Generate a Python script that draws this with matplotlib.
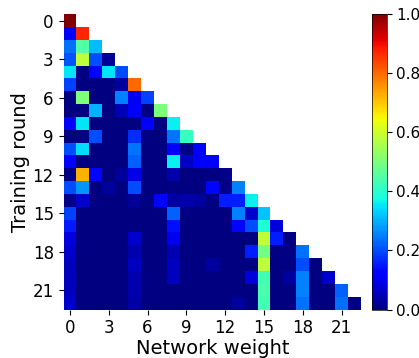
import numpy as np
import matplotlib
matplotlib.use("Agg")
import matplotlib.pyplot as plt

# fraction of attention each training round puts on each network weight
row_00 = [1.0]
row_01 = [0.11, 0.87]
row_02 = [0.235, 0.45, 0.31]
row_03 = [0.21, 0.58, 0.2, 0.02]
row_04 = [0.35, 0.0, 0.11, 0.35, 0.2]
row_05 = [0.19, 0, 0, 0, 0.03, 0.8]
row_06 = [0, 0.5, 0, 0, 0.25, 0.1, 0.19]
row_07 = [0, 0, 0.3, 0, 0.05, 0.11, 0, 0.5]
row_08 = [0.11, 0.35, 0, 0, 0, 0, 0.12, 0, 0.36]
row_09 = [0, 0, 0.2, 0, 0, 0.17, 0, 0, 0.24, 0.42]
row_10 = [0.2, 0.34, 0, 0, 0, 0.24, 0, 0, 0.12, 0.01, 0.12]
row_11 = [0.12, 0, 0, 0, 0, 0.22, 0, 0, 0.36, 0.06, 0.12, 0.12]
row_12 = [0, 0.72, 0.13, 0, 0.025, 0.09, 0, 0, 0.04, 0, 0, 0, 0.01]
row_13 = [0.2, 0.27, 0, 0.025, 0, 0.2, 0, 0, 0, 0, 0, 0.13, 0.01, 0.25]
row_14 = [0.01, 0.07, 0, 0, 0, 0.02, 0, 0.13, 0.03, 0.04, 0.03, 0, 0.155, 0.155, 0.36]
row_15 = [0.19, 0, 0, 0, 0, 0, 0, 0, 0.22, 0, 0, 0, 0, 0.25, 0.07, 0.32]
row_16 = [0.15, 0, 0, 0, 0, 0, 0, 0, 0.14, 0, 0, 0, 0, 0.13, 0.2, 0.39, 0.08]
row_17 = [0.085, 0, 0, 0, 0, 0.07, 0, 0, 0.1, 0, 0, 0, 0, 0, 0, 0.58, 0.155, 0]
row_18 = [0.07, 0, 0, 0, 0, 0.04, 0, 0, 0.045, 0, 0, 0, 0, 0, 0.155, 0.49, 0, 0, 0.235]
row_19 = [0.055, 0, 0, 0, 0, 0.055, 0, 0, 0.055, 0, 0, 0.03, 0, 0, 0, 0.58, 0, 0, 0.2, 0]
row_20 = [0.055, 0, 0, 0, 0, 0.04, 0, 0, 0.055, 0, 0, 0, 0, 0, 0.08, 0.43, 0, 0.03, 0.25, 0, 0.07]
row_21 = [0.055, 0, 0, 0, 0, 0.04, 0, 0, 0, 0, 0, 0, 0, 0, 0, 0.44, 0, 0, 0.25, 0, 0, 0.22]
row_22 = [0.07, 0, 0, 0, 0, 0.035, 0, 0, 0, 0, 0, 0, 0, 0.03, 0, 0.43, 0, 0, 0.235, 0, 0, 0.235, 0.0]

rows = [row_00, row_01, row_02, row_03, row_04, row_05, row_06, row_07,
        row_08, row_09, row_10, row_11, row_12, row_13, row_14, row_15,
        row_16, row_17, row_18, row_19, row_20, row_21, row_22]
ticks = [0, 3, 6, 9, 12, 15, 18, 21]

n = len(rows)
data = np.full((n, n), np.nan)
for i, r in enumerate(rows):
    data[i, :len(r)] = r
data = np.ma.masked_invalid(data)

fig = plt.figure(figsize=(4.19, 3.58), dpi=100)
ax = fig.add_axes([63.5 / 419, 1 - 309.5 / 358, 297.5 / 419, 295.2 / 358])
cax = fig.add_axes([372 / 419, 1 - 309.5 / 358, 14.5 / 419, 296 / 358])

mesh = ax.pcolormesh(np.arange(n + 1), np.arange(n + 1), data,
                     cmap="jet", vmin=0, vmax=1)
ax.set_xlim(0, n)
ax.set_ylim(n, 0)
ax.set_xticks(np.array(ticks) + 0.5)
ax.set_xticklabels(ticks, fontsize=12)
ax.set_yticks(np.array(ticks) + 0.5)
ax.set_yticklabels(ticks, fontsize=12)
for s in ax.spines.values():
    s.set_visible(False)
ax.set_xlabel("Network weight", fontsize=14, labelpad=1)
ax.set_ylabel("Training round", fontsize=14, labelpad=2)

cb = fig.colorbar(mesh, cax=cax)
cb.set_ticks([0.0, 0.2, 0.4, 0.6, 0.8, 1.0])
cb.ax.tick_params(labelsize=11)
cb.outline.set_linewidth(0.5)

plt.savefig("out.png", dpi=100)
